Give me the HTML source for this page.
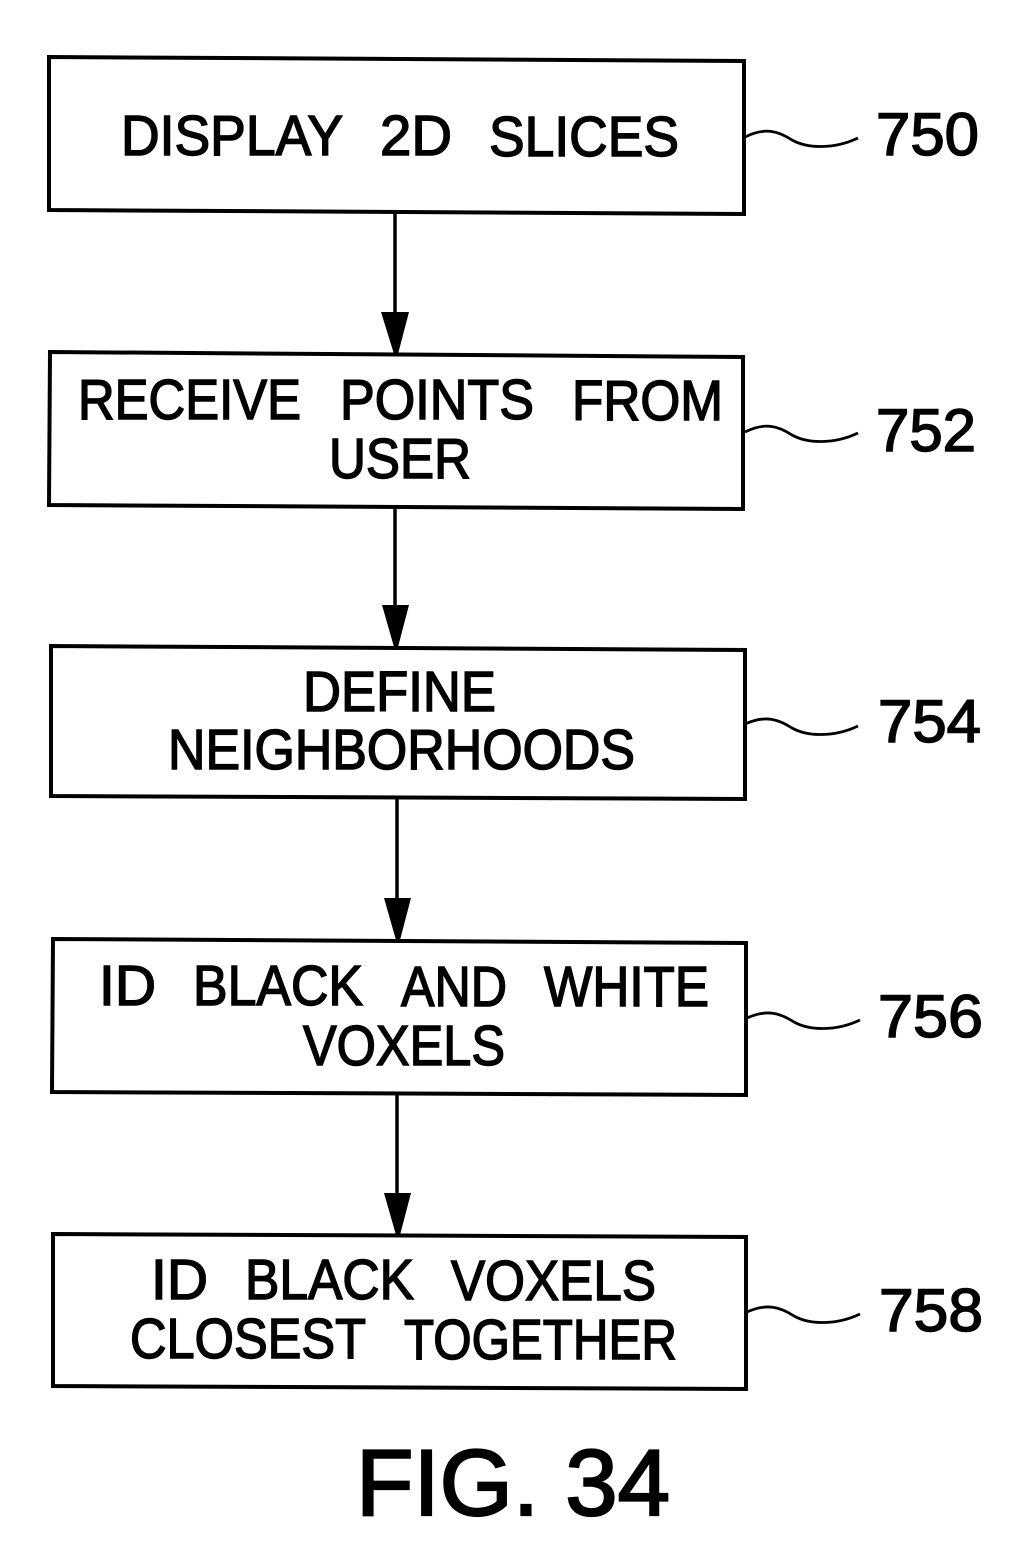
<!DOCTYPE html>
<html><head><meta charset="utf-8"><style>
html,body{margin:0;padding:0;background:#fff;width:1032px;height:1568px;overflow:hidden}
svg{display:block}
text{font-family:"Liberation Sans",sans-serif;fill:#000;stroke:#000;stroke-width:1.5px}
.t{font-size:57px}
.n{font-size:60px}
.f{font-size:94px;stroke-width:2.2px}
.b{fill:none;stroke:#000;stroke-width:4}
.l{fill:none;stroke:#000;stroke-width:3.5}
.s{fill:none;stroke:#000;stroke-width:2.8}
</style></head><body>
<svg width="1032" height="1568" viewBox="0 0 1032 1568" xmlns="http://www.w3.org/2000/svg">
<polygon class="b" points="49,57 744,61 744,214 49,210"/>
<polygon class="b" points="50,352 743,357 743,509 49,505"/>
<polygon class="b" points="51,646 745,650 745,799 51,796"/>
<polygon class="b" points="53,939 746,943 746,1095 52,1092"/>
<polygon class="b" points="53,1234 746,1237 746,1389 53,1386"/>

<path class="l" d="M395 213V320"/><polygon points="381,312 409,312 398,354 394,354"/>
<path class="l" d="M395 509V612"/><polygon points="382,605 409,605 398,647 394,647"/>
<path class="l" d="M397 799V905"/><polygon points="384,898 411,898 400,940 396,940"/>
<path class="l" d="M397 1095V1200"/><polygon points="384,1193 411,1193 400,1235 396,1235"/>

<path class="s" d="M745 137C765 127 778 131 792 140C808 149 835 149 858 138"/>
<path class="s" d="M745 432C765 422 778 426 792 435C808 444 835 444 858 433"/>
<path class="s" d="M745 724C765 715 778 719 792 728C808 737 835 737 858 726"/>
<path class="s" d="M747 1018C767 1009 780 1013 794 1022C810 1031 837 1031 860 1020"/>
<path class="s" d="M747 1312C767 1303 780 1307 794 1316C810 1325 837 1325 860 1314"/>

<text class="t" x="121" y="155" textLength="222" lengthAdjust="spacingAndGlyphs">DISPLAY</text>
<text class="t" x="380" y="155" textLength="72" lengthAdjust="spacingAndGlyphs">2D</text>
<text class="t" x="489" y="156" textLength="190" lengthAdjust="spacingAndGlyphs">SLICES</text>
<text class="t" x="78" y="419" textLength="223" lengthAdjust="spacingAndGlyphs">RECEIVE</text>
<text class="t" x="340" y="419" textLength="194" lengthAdjust="spacingAndGlyphs">POINTS</text>
<text class="t" x="572" y="420" textLength="151" lengthAdjust="spacingAndGlyphs">FROM</text>
<text class="t" x="329" y="478" textLength="142" lengthAdjust="spacingAndGlyphs">USER</text>
<text class="t" x="303" y="711" textLength="193" lengthAdjust="spacingAndGlyphs">DEFINE</text>
<text class="t" x="168" y="769" textLength="467" lengthAdjust="spacingAndGlyphs">NEIGHBORHOODS</text>
<text class="t" x="99" y="1005" textLength="57" lengthAdjust="spacingAndGlyphs">ID</text>
<text class="t" x="193" y="1005" textLength="170" lengthAdjust="spacingAndGlyphs">BLACK</text>
<text class="t" x="401" y="1006" textLength="106" lengthAdjust="spacingAndGlyphs">AND</text>
<text class="t" x="544" y="1006" textLength="165" lengthAdjust="spacingAndGlyphs">WHITE</text>
<text class="t" x="303" y="1065" textLength="202" lengthAdjust="spacingAndGlyphs">VOXELS</text>
<text class="t" x="151" y="1299" textLength="57" lengthAdjust="spacingAndGlyphs">ID</text>
<text class="t" x="245" y="1299" textLength="169" lengthAdjust="spacingAndGlyphs">BLACK</text>
<text class="t" x="451" y="1300" textLength="205" lengthAdjust="spacingAndGlyphs">VOXELS</text>
<text class="t" x="130" y="1358" textLength="236" lengthAdjust="spacingAndGlyphs">CLOSEST</text>
<text class="t" x="404" y="1359" textLength="273" lengthAdjust="spacingAndGlyphs">TOGETHER</text>

<text class="n" x="876" y="155" textLength="103" lengthAdjust="spacingAndGlyphs">750</text>
<text class="n" x="876" y="451" textLength="100" lengthAdjust="spacingAndGlyphs">752</text>
<text class="n" x="878" y="742" textLength="103" lengthAdjust="spacingAndGlyphs">754</text>
<text class="n" x="878" y="1037" textLength="105" lengthAdjust="spacingAndGlyphs">756</text>
<text class="n" x="879" y="1331" textLength="104" lengthAdjust="spacingAndGlyphs">758</text>

<text class="f" x="356" y="1515" textLength="314" lengthAdjust="spacingAndGlyphs">FIG. 34</text>
</svg>
</body></html>
